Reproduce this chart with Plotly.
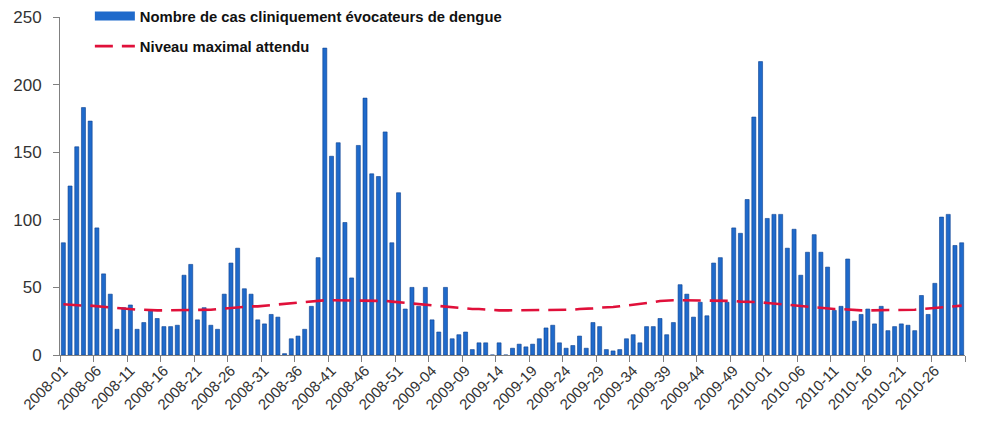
import plotly.graph_objects as go

# Week labels: ISO weeks 2008-01 .. 2010-30 (2008: 52 weeks, 2009: 53 weeks)
years = [2008, 2009, 2010]
weeks_in_year = [52, 53, 30]
weeks = [f"{y}-{w:02d}" for y, n in zip(years, weeks_in_year) for w in range(1, n + 1)]

cases_2008 = [83, 125, 154, 183, 173, 94, 60, 45, 19, 35,
              37, 19, 24, 33, 27, 21, 21, 22, 59, 67,
              26, 35, 22, 19, 45, 68, 79, 49, 45, 26,
              23, 30, 28, 1, 12, 14, 19, 36, 72, 227,
              147, 157, 98, 57, 155, 190, 134, 132, 165, 83,
              120, 34]
cases_2009 = [50, 36, 50, 26, 17, 50, 12, 15, 17, 4,
              9, 9, 0, 9, 0, 5, 8, 6, 8, 12,
              20, 22, 9, 5, 7, 14, 5, 24, 21, 4,
              3, 4, 12, 15, 9, 21, 21, 27, 15, 24,
              52, 45, 28, 39, 29, 68, 72, 39, 94, 90,
              115, 176, 217]
cases_2010 = [101, 104, 104, 79, 93, 59, 76, 89, 76, 65,
              33, 36, 71, 25, 30, 34, 23, 36, 18, 21,
              23, 22, 18, 44, 30, 53, 102, 104, 81, 83]
cases = cases_2008 + cases_2009 + cases_2010

threshold_2008 = [37.5, 37, 37, 36.5, 36.5, 36, 35.5, 35, 34.5, 34,
                  34, 33.5, 33.5, 33, 33, 33, 33, 33, 33, 33,
                  33, 33.5, 33.5, 34, 34.5, 35, 35, 35.5, 36, 36,
                  36.5, 37, 37.5, 38, 38.5, 39, 39.5, 40, 40, 40.5,
                  40.5, 40.5, 40.5, 40.5, 40.5, 40.5, 40, 40, 40, 39.5,
                  39, 39]
threshold_2009 = [38.5, 38, 37.5, 37, 36.5, 36, 35.5, 35, 34.5, 34,
                  34, 33.5, 33.5, 33, 33, 33, 33, 33, 33, 33,
                  33, 33, 33, 33.5, 33.5, 34, 34, 34.5, 35, 35,
                  35.5, 36, 36.5, 37, 37.5, 38, 39, 40, 40.5, 40.5,
                  40.5, 40.5, 40.5, 40.5, 40.5, 40.5, 40, 40, 40, 39.5,
                  39.5, 39, 39]
threshold_2010 = [38.5, 38, 37.5, 37.5, 37, 36.5, 36, 35.5, 35, 34.5,
                  34, 34, 33.5, 33.5, 33, 33, 33, 33, 33, 33,
                  33, 33.5, 33.5, 34, 34.5, 35, 35, 35.5, 36, 36.5]
threshold = threshold_2008 + threshold_2009 + threshold_2010

y_ticks = [0, 50, 100, 150, 200, 250]

BAR_BLUE = "#1f6acb"
BAR_EDGE = "#0c3f8f"
LINE_RED = "#e0103a"

fig = go.Figure()
fig.add_trace(go.Bar(
    x=weeks, y=cases,
    name="Nombre de cas cliniquement évocateurs de dengue",
    marker=dict(color=BAR_BLUE, line=dict(color=BAR_EDGE, width=0.6)),
    width=0.6,
    showlegend=False,
))
# legend entry for the bars, drawn as a wide rectangle like the original
fig.add_trace(go.Scatter(
    x=[None], y=[None],
    mode="lines",
    name="Nombre de cas cliniquement évocateurs de dengue",
    line=dict(color=BAR_BLUE, width=9),
    legendgroup="a",
))
fig.add_trace(go.Scatter(
    x=weeks, y=threshold,
    mode="lines",
    name="Niveau maximal attendu",
    line=dict(color=LINE_RED, width=2.6, dash="18px,9px"),
    legendgroup="b",
))

fig.update_layout(
    width=986, height=438,
    margin=dict(l=60, r=21, t=4, b=83, autoexpand=False),
    paper_bgcolor="white",
    plot_bgcolor="white",
    font=dict(family="Liberation Sans, Arial, sans-serif", color="#333333"),
    legend=dict(
        x=0.033, y=1.012, xanchor="left", yanchor="top",
        yref="paper",
        bgcolor="rgba(0,0,0,0)",
        font=dict(size=14.8, color="#111111", family="Liberation Sans, Arial, sans-serif", weight="bold"),
        tracegroupgap=8,
        traceorder="grouped",
        itemwidth=40,
    ),
    showlegend=True,
)
fig.update_xaxes(
    type="category",
    tickmode="linear", dtick=5,
    tickson="boundaries",
    ticks="outside", ticklen=6, tickcolor="#808080",
    tickangle=-45,
    tickfont=dict(size=15, color="#333333"),
    showline=True, linecolor="#808080", linewidth=1,
    showgrid=False,
    automargin=False,
    range=[-0.5, len(weeks) - 0.5],
)
fig.update_yaxes(
    range=[0, 250],
    domain=[0, 338 / 351],
    tickvals=y_ticks,
    ticks="outside", ticklen=6, tickcolor="#808080",
    ticklabelstandoff=8,
    tickfont=dict(size=17, color="#333333"),
    showline=True, linecolor="#808080", linewidth=1,
    showgrid=False, zeroline=False,
    automargin=False,
)

fig.write_html(
    "out.html",
    config={"displayModeBar": False},
    post_script="document.body.style.margin='0';",
)
